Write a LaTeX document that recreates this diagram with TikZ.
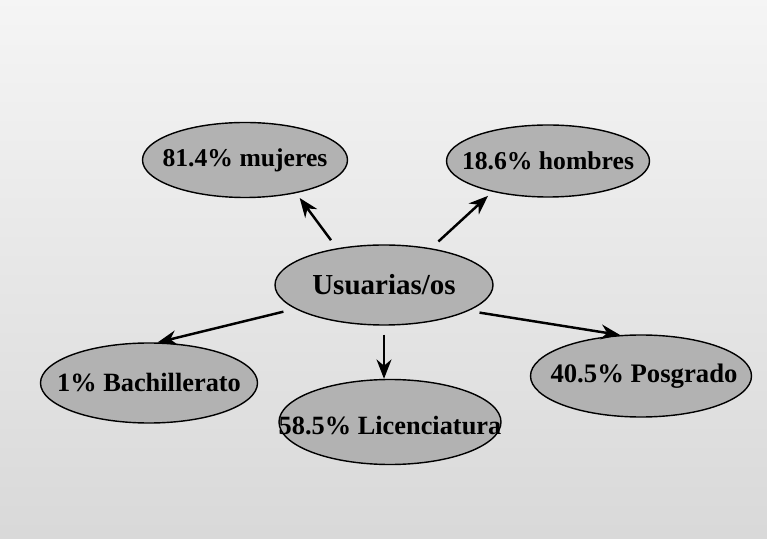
\documentclass[tikz,border=0pt]{standalone}
\usepackage{fontspec}
\setmainfont{Liberation Serif}
\usetikzlibrary{shapes,arrows.meta,positioning}

\begin{document}
\begin{tikzpicture}[
    oval/.style={ellipse, draw=black, line width=0.8pt, fill=black!30},
    arr/.style={-{Stealth[length=11pt,width=8.5pt]}, line width=1.4pt},
    font=\bfseries\fontsize{14.6}{16}\selectfont]
  \fill[top color=black!4, bottom color=black!15] (0,0) rectangle (15.34,-10.78);
  \useasboundingbox (0,0) rectangle (15.34,-10.78);

  \node[oval, minimum width=4.36cm, minimum height=1.6cm,
        label={[font=\bfseries\fontsize{16.5}{18}\selectfont]center:Usuarias/os}] (usuarios) at (7.68,-5.70) {};
  \node[oval, minimum width=4.1cm, minimum height=1.5cm, label={center:81.4\% mujeres}] (mujeres) at (4.90,-3.20) {};
  \node[oval, minimum width=4.06cm, minimum height=1.44cm, label={center:18.6\% hombres}] (hombres) at (10.96,-3.22) {};
  \node[oval, minimum width=4.34cm, minimum height=1.6cm,
        label={[font=\bfseries\fontsize{15}{16}\selectfont]center:1\% Bachillerato}] (bachillerato) at (2.98,-7.66) {};
  \node[oval, minimum width=4.44cm, minimum height=1.7cm,
        label={[font=\bfseries\fontsize{15}{16}\selectfont, yshift=-0.08cm]center:58.5\% Licenciatura}] (licenciatura) at (7.80,-8.44) {};
  \node[oval, minimum width=4.42cm, minimum height=1.64cm,
        label={[font=\bfseries\fontsize{15.2}{16}\selectfont, xshift=0.06cm]center:40.5\% Posgrado}] (posgrado) at (12.82,-7.52) {};

  \draw[arr, shorten <=0.2cm, shorten >=0.12cm] (usuarios.142) -- (mujeres.-33);
  \draw[arr, shorten <=0.2cm, shorten >=0.12cm] (usuarios.38) -- (hombres.209);
  \draw[arr, shorten <=0.24cm] (usuarios.195) -- (bachillerato.78);
  \draw[arr, shorten <=0.18cm] (usuarios.south) -- (usuarios.south |- licenciatura.north);
  \draw[arr, shorten <=0.22cm] (usuarios.-17) -- (posgrado.117);
\end{tikzpicture}
\end{document}
